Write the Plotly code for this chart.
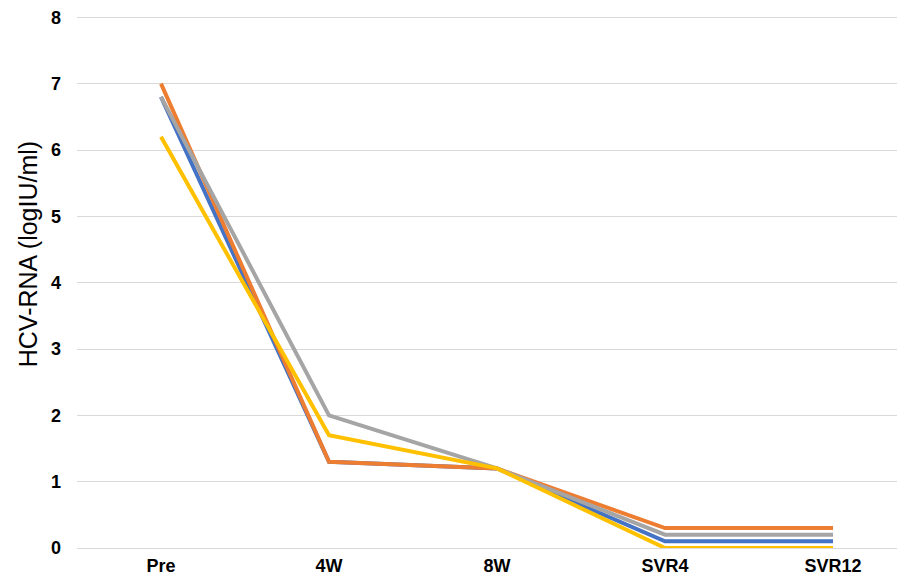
import plotly.graph_objects as go

categories = ["Pre", "4W", "8W", "SVR4", "SVR12"]
series_names = ["Series1", "Series2", "Series3", "Series4"]
blue_vals = [6.8, 1.3, 1.2, 0.1, 0.1]
orange_vals = [7.0, 1.3, 1.2, 0.3, 0.3]
gray_vals = [6.8, 2.0, 1.2, 0.2, 0.2]
yellow_vals = [6.2, 1.7, 1.2, 0.0, 0.0]
colors = ["#4472C4", "#ED7D31", "#A5A5A5", "#FFC000"]
y_ticks = [0, 1, 2, 3, 4, 5, 6, 7, 8]
y_title = "HCV-RNA (logIU/ml)"

fig = go.Figure()
for name, vals, c in zip(series_names, [blue_vals, orange_vals, gray_vals, yellow_vals], colors):
    fig.add_trace(go.Scatter(x=categories, y=vals, mode="lines", name=name,
                             line=dict(color=c, width=4)))

fig.update_layout(
    width=910, height=574,
    margin=dict(l=69, r=1, t=8, b=34),
    plot_bgcolor="white", paper_bgcolor="white",
    showlegend=False,
    font=dict(family="Arial, Liberation Sans, sans-serif", color="#000"),
)
fig.add_annotation(text=y_title, textangle=-90, xref="paper", yref="paper",
                   x=-0.059, y=0.553, xanchor="center", yanchor="middle", showarrow=False,
                   font=dict(size=25, color="#000", family="Arial, Liberation Sans, sans-serif"))
fig.update_xaxes(type="category", range=[-0.5, 4.5], showgrid=False, showline=False,
                 tickfont=dict(size=18, color="#000", family="Arial, Liberation Sans, sans-serif", weight="bold"),
                 ticks="", ticklabelstandoff=5, ticklabeloverflow="allow")
fig.update_yaxes(range=[0, 8.02], tickvals=y_ticks, showgrid=True, gridcolor="#D9D9D9", gridwidth=1,
                 zeroline=True, zerolinecolor="#D9D9D9", zerolinewidth=1, showline=False,
                 tickfont=dict(size=18, color="#000", family="Arial, Liberation Sans, sans-serif", weight="bold"),
                 ticks="", ticklabelstandoff=15, ticklabeloverflow="allow")

fig.write_html("out.html")
